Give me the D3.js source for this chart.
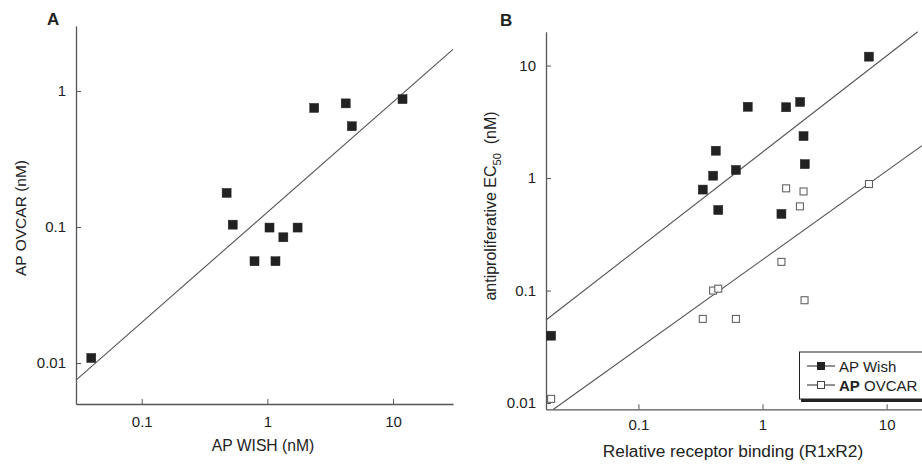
<!DOCTYPE html>
<html>
<head>
<meta charset="utf-8">
<script src="https://cdn.jsdelivr.net/npm/d3@7"></script>
<style>
  html, body { margin: 0; padding: 0; background: #fff; }
  svg { display: block; font-family: "Liberation Sans", Arial, sans-serif; }
</style>
</head>
<body>
<svg id="chart" width="922" height="465"></svg>
<script>
// ---------- Data ----------
// Panel A: AP WISH vs AP OVCAR (nM)
const wishA  = [0.0397, 0.474, 0.53, 1.04, 1.34, 1.74, 0.79, 1.16, 2.36, 4.2, 4.7, 11.9];
const ovcarA = [0.0109, 0.178, 0.104, 0.099, 0.084, 0.099, 0.056, 0.056, 0.75, 0.81, 0.55, 0.87];
const fitA   = [[0.03, 0.0075], [30, 2.02]];

// Panel B: relative receptor binding vs antiproliferative EC50
const bindWish = [0.0198, 0.33, 0.40, 0.42, 0.44, 0.61, 0.76, 1.42, 1.55, 2.01, 2.14, 2.19, 7.2];
const ec50Wish = [0.0397, 0.79, 1.05, 1.75, 0.52, 1.18, 4.3, 0.48, 4.26, 4.75, 2.36, 1.33, 12];
const bindOvcar = [0.0198, 0.33, 0.40, 0.44, 0.61, 1.42, 1.55, 2.0, 2.14, 2.18, 7.2];
const ec50Ovcar = [0.0109, 0.056, 0.1, 0.104, 0.056, 0.18, 0.81, 0.56, 0.76, 0.082, 0.885];
const fitWish  = [[0.018, 0.0547], [17.8, 20]];
const fitOvcar = [[0.0207, 0.0088], [20, 2.0]];

const tickValsA_x = [0.1, 1, 10];
const tickValsA_y = [0.01, 0.1, 1];
const tickValsB_x = [0.1, 1, 10];
const tickValsB_y = [0.01, 0.1, 1, 10];
const legendLabels = ["AP Wish", "AP OVCAR"];

// ---------- Drawing ----------
const svg = d3.select("#chart");
const fmt = d => String(d);
const axisColor = "#555";
const fillColor = "#222";

function styleAxis(g) {
  g.select(".domain").attr("stroke", axisColor).attr("stroke-width", 1.3);
  g.selectAll(".tick line").attr("stroke", axisColor);
  g.selectAll(".tick text").attr("fill", "#222").style("font-size", "15px")
    .style("font-family", "'Liberation Sans', Arial, sans-serif");
}

function drawPanel(cfg) {
  const x = d3.scaleLog().domain(cfg.xDomain).range(cfg.xRange);
  const y = d3.scaleLog().domain(cfg.yDomain).range(cfg.yRange);
  const g = svg.append("g");

  // axes
  g.append("g").attr("transform", `translate(0,${cfg.yRange[0]})`)
    .call(d3.axisBottom(x).tickValues(cfg.xTicks).tickFormat(fmt).tickSizeInner(-5).tickSizeOuter(0).tickPadding(cfg.xPad))
    .call(styleAxis);
  g.append("g").attr("transform", `translate(${cfg.xRange[0]},0)`)
    .call(d3.axisLeft(y).tickValues(cfg.yTicks).tickFormat(fmt).tickSizeInner(-5).tickSizeOuter(0).tickPadding(10))
    .call(styleAxis);

  // fit lines
  const line = d3.line().x(d => x(d[0])).y(d => y(d[1]));
  cfg.fits.forEach(f => {
    g.append("path").attr("d", line(f)).attr("fill", "none")
      .attr("stroke", "#555").attr("stroke-width", 1.1);
  });

  // series
  cfg.series.forEach(s => {
    const pts = s.xs.map((v, i) => [v, s.ys[i]]);
    g.selectAll(null).data(pts).enter().append("rect")
      .attr("x", d => x(d[0]) - s.size / 2)
      .attr("y", d => y(d[1]) - s.size / 2)
      .attr("width", s.size).attr("height", s.size)
      .attr("fill", s.filled ? fillColor : "#fff")
      .attr("stroke", s.filled ? fillColor : "#555")
      .attr("stroke-width", s.filled ? 0.5 : 1);
  });
  return { x, y, g };
}

// Panel A
drawPanel({
  xDomain: [0.03, 30], xRange: [76, 453],
  yDomain: [0.005, 3], yRange: [404, 26],
  xTicks: tickValsA_x, yTicks: tickValsA_y, xPad: 12,
  fits: [fitA],
  series: [{ xs: wishA, ys: ovcarA, filled: true, size: 9 }]
});

// Panel B
drawPanel({
  xDomain: [0.018, 20], xRange: [546, 924],
  yDomain: [0.0088, 20], yRange: [409.3, 31.7],
  xTicks: tickValsB_x, yTicks: tickValsB_y, xPad: 10,
  fits: [fitWish, fitOvcar],
  series: [
    { xs: bindWish, ys: ec50Wish, filled: true, size: 9 },
    { xs: bindOvcar, ys: ec50Ovcar, filled: false, size: 7 }
  ]
});

// Panel letters
svg.append("text").attr("x", 47).attr("y", 25).text("A")
  .style("font-size", "17px").style("font-weight", "bold").attr("fill", "#222");
svg.append("text").attr("x", 500).attr("y", 26).text("B")
  .style("font-size", "17px").style("font-weight", "bold").attr("fill", "#222");

// Axis titles
svg.append("text").attr("x", 263).attr("y", 451).attr("text-anchor", "middle")
  .style("font-size", "15.7px").attr("fill", "#222").text("AP WISH (nM)");
svg.append("text").attr("transform", "translate(26,218) rotate(-90)").attr("text-anchor", "middle")
  .style("font-size", "15.5px").attr("fill", "#222").text("AP OVCAR (nM)");
svg.append("text").attr("x", 733).attr("y", 457).attr("text-anchor", "middle")
  .style("font-size", "17.3px").attr("fill", "#222").text("Relative receptor binding (R1xR2)");
const yt = svg.append("text").attr("transform", "translate(496,206) rotate(-90)").attr("text-anchor", "middle")
  .style("font-size", "16px").attr("fill", "#222");
yt.append("tspan").text("antiproliferative EC");
yt.append("tspan").attr("dy", 5).style("font-size", "11px").text("50");
yt.append("tspan").attr("dy", -5).text("\u00a0 (nM)");

// Legend
const lg = svg.append("g");
lg.append("rect").attr("x", 801).attr("y", 354).attr("width", 130).attr("height", 48).attr("fill", "#222");
lg.append("rect").attr("x", 799.5).attr("y", 352).attr("width", 130).attr("height", 47)
  .attr("fill", "#fff").attr("stroke", "#222").attr("stroke-width", 1);
legendLabels.forEach((lab, i) => {
  const cy = 366 + i * 19;
  lg.append("line").attr("x1", 807).attr("x2", 835).attr("y1", cy).attr("y2", cy)
    .attr("stroke", "#222").attr("stroke-width", 1);
  lg.append("rect").attr("x", 821 - 3.5).attr("y", cy - 3.5).attr("width", 7).attr("height", 7)
    .attr("fill", i === 0 ? fillColor : "#fff").attr("stroke", i === 0 ? fillColor : "#444");
  const t = lg.append("text").attr("x", 839).attr("y", cy + 5.5).style("font-size", "15px").attr("fill", "#222");
  const parts = lab.split(" ");
  t.append("tspan").style("font-weight", i === 1 ? "bold" : "normal").text(parts[0]);
  t.append("tspan").text(" " + parts.slice(1).join(" "));
});
</script>
</body>
</html>
